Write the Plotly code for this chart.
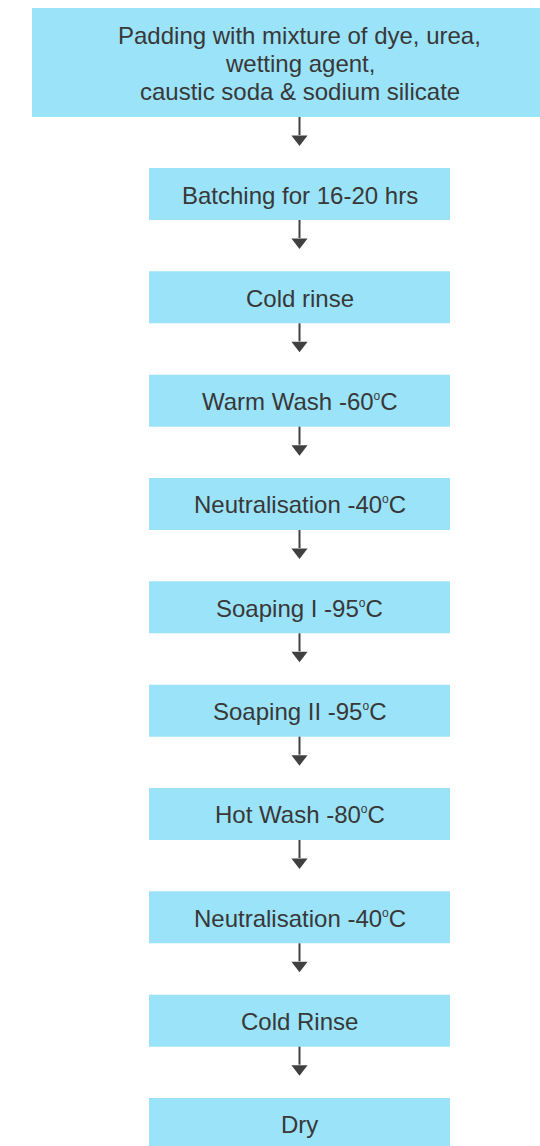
import plotly.graph_objects as go

# ---- data: flowchart steps (top to bottom) ----
DEG = "<sup><span style='font-size:12px'>o</span></sup>"
steps = [
    "Padding with mixture of dye, urea,<br>wetting agent,<br>caustic soda & sodium silicate",
    "Batching for 16-20 hrs",
    "Cold rinse",
    "Warm Wash -60" + DEG + "C",
    "Neutralisation -40" + DEG + "C",
    "Soaping I -95" + DEG + "C",
    "Soaping II -95" + DEG + "C",
    "Hot Wash -80" + DEG + "C",
    "Neutralisation -40" + DEG + "C",
    "Cold Rinse",
    "Dry",
]

# ---- style / layout constants ----
W, H = 540, 1146
FILL = "#9BE3F8"
TEXT = "#383838"
ARROW = "#404040"
FONT = "Liberation Sans, Arial, Helvetica, sans-serif"
FS = 24
LINE_GAP = 28
CX = 299.5
TOP_BOX = (32, 600, 8, 117)      # x0, x1, y0, y1
SMALL_X = (149, 450)
FIRST_TOP = 168
PITCH = 103.33
BOX_H = 52

fig = go.Figure()

boxes = [TOP_BOX]
for i in range(1, len(steps)):
    t = FIRST_TOP + (i - 1) * PITCH
    boxes.append((SMALL_X[0], SMALL_X[1], t, t + BOX_H))

for (x0, x1, y0, y1), label in zip(boxes, steps):
    fig.add_shape(type="rect", xref="x", yref="y", x0=x0, x1=x1, y0=y0, y1=y1,
                  fillcolor=FILL, line=dict(width=0), layer="below")
    lines = label.split("<br>")
    yc = (y0 + y1) / 2
    n = len(lines)
    for j, ln in enumerate(lines):
        fig.add_annotation(x=CX, y=yc + (j - (n - 1) / 2) * LINE_GAP + 1, xref="x", yref="y",
                           text=ln, showarrow=False,
                           font=dict(family=FONT, size=FS, color=TEXT),
                           align="center", xanchor="center", yanchor="middle")

# arrows between boxes
stem_x, stem_y, head_x, head_y = [], [], [], []
for k in range(len(boxes) - 1):
    b = boxes[k][3]
    stem_x += [CX, CX, None]
    stem_y += [b, b + 18, None]
    head_x.append(CX)
    head_y.append(b + 22)

fig.add_trace(go.Scatter(x=stem_x, y=stem_y, mode="lines",
                         line=dict(color=ARROW, width=2), hoverinfo="skip"))
fig.add_trace(go.Scatter(x=head_x, y=head_y, mode="markers",
                         marker=dict(symbol="triangle-down", size=14, color=ARROW,
                                     line=dict(width=0)), hoverinfo="skip"))

fig.update_layout(
    width=W, height=H, margin=dict(l=0, r=0, t=0, b=0),
    paper_bgcolor="white", plot_bgcolor="white", showlegend=False,
    xaxis=dict(range=[0, W], visible=False, fixedrange=True),
    yaxis=dict(range=[H, 0], visible=False, fixedrange=True),
)

fig.write_html("out.html", config={"displayModeBar": False},
               post_script="document.body.style.margin='0';document.body.style.overflow='hidden';")
